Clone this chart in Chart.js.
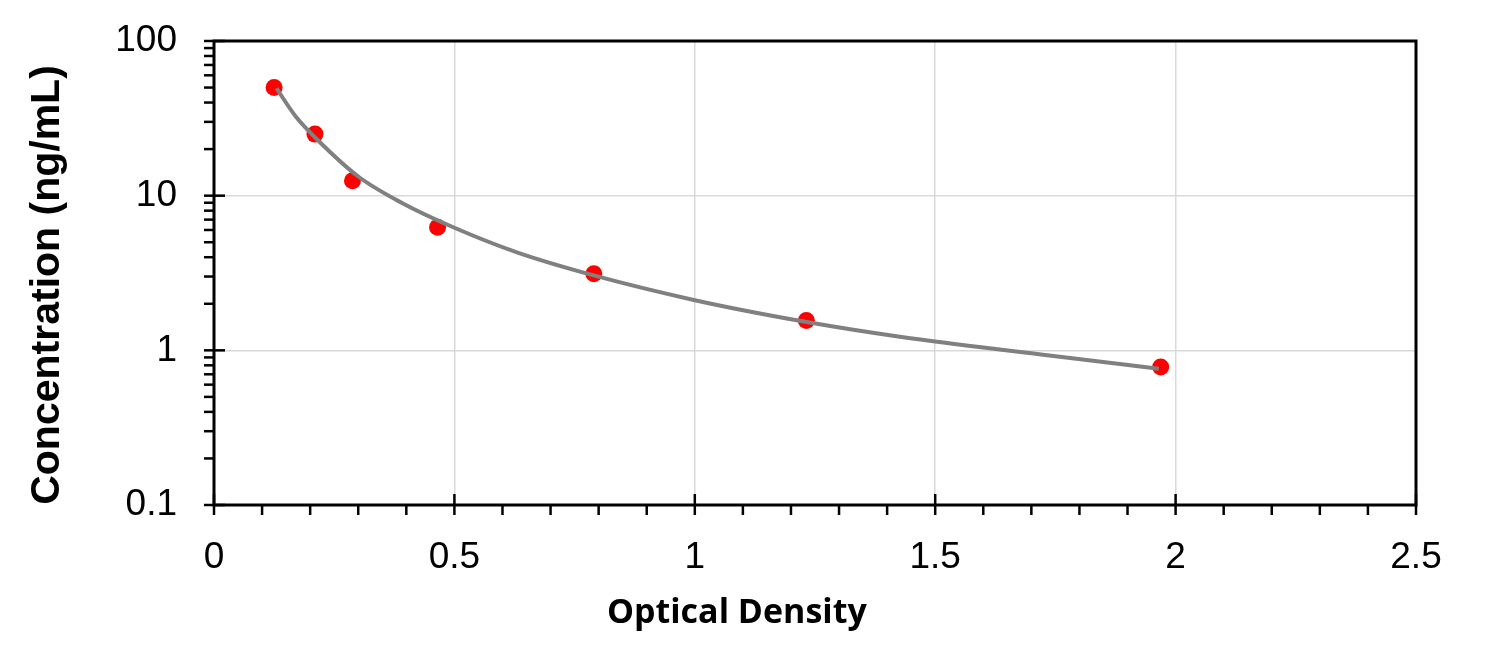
<!DOCTYPE html>
<html>
<head>
<meta charset="utf-8">
<script src="https://cdn.jsdelivr.net/npm/chart.js@4.4.0/dist/chart.umd.min.js"></script>
<style>
    html, body { margin: 0; padding: 0; background: #fff; }
    #wrap { width: 1494px; height: 655px; }
</style>
</head>
<body>
<div id="wrap"><canvas id="curva"></canvas></div>
<script>
// pontos medidos (padrões)
var odPontos = [0.125, 0.21, 0.288, 0.465, 0.79, 1.232, 1.969];
var concPontos = [50, 25, 12.5, 6.25, 3.125, 1.56, 0.78];

// curva ajustada
var odCurva = [0.13, 0.17, 0.215, 0.3, 0.39, 0.5, 0.63, 0.79, 1.0, 1.23, 1.43, 1.72, 1.965];
var concCurva = [49.4, 32.5, 23, 13.3, 9.0, 6.2, 4.3, 3.05, 2.11, 1.53, 1.22, 0.94, 0.76];

var ticksY = [0.1, 1, 10, 100];
var ticksX = [0, 0.5, 1, 1.5, 2, 2.5];
var tituloX = 'Optical Density';
var tituloY = 'Concentration (ng/mL)';

function ehMajorX(v) {
    return Math.abs(v * 2 - Math.round(v * 2)) < 1e-6;
}
function ehMajorY(v) {
    var l = Math.log10(v);
    return Math.abs(l - Math.round(l)) < 1e-6;
}

const molduraPlugin = {
    id: 'moldura',
    afterDraw(chart) {
        const ctx = chart.ctx;
        const a = chart.chartArea;
        const sx = chart.scales.x;
        const sy = chart.scales.y;
        ctx.save();
        ctx.strokeStyle = '#000';
        ctx.lineWidth = 2.5;
        // marcas do eixo y
        sy.ticks.forEach(function (t) {
            var p = sy.getPixelForValue(t.value);
            var major = ehMajorY(t.value);
            ctx.beginPath();
            ctx.moveTo(a.left - 10, p);
            ctx.lineTo(major ? a.left + 11 : a.left, p);
            ctx.stroke();
        });
        // marcas do eixo x
        sx.ticks.forEach(function (t) {
            var p = sx.getPixelForValue(t.value);
            var major = ehMajorX(t.value);
            ctx.beginPath();
            ctx.moveTo(p, a.bottom + 10);
            ctx.lineTo(p, major ? a.bottom - 11 : a.bottom);
            ctx.stroke();
        });
        ctx.lineWidth = 3;
        ctx.strokeRect(a.left, a.top, a.right - a.left, a.bottom - a.top);

        // títulos dos eixos (fora do centro, como no original)
        ctx.fillStyle = '#000';
        ctx.font = 'bold 34px "Open Sans"';
        ctx.textAlign = 'center';
        ctx.textBaseline = 'middle';
        ctx.fillText(tituloX, a.left + (a.right - a.left) * 0.435, a.bottom + 108);

        ctx.translate(59, (a.top + a.bottom) / 2 + 12);
        ctx.rotate(-Math.PI / 2);
        ctx.font = 'bold 41px "Liberation Sans", Arial';
        ctx.textBaseline = 'alphabetic';
        ctx.fillText(tituloY, 0, 0);
        ctx.restore();
    }
};

const ctxCurva = document.getElementById('curva');

new Chart(ctxCurva, {
    type: 'scatter',
    data: {
        datasets: [{
            label: 'Curva',
            type: 'line',
            data: odCurva.map(function (x, i) { return { x: x, y: concCurva[i] }; }),
            borderColor: '#808080',
            borderWidth: 4,
            pointRadius: 0,
            cubicInterpolationMode: 'monotone',
            fill: false,
            order: 0
        },
        {
            label: 'Padrões',
            data: odPontos.map(function (x, i) { return { x: x, y: concPontos[i] }; }),
            backgroundColor: '#ff0000',
            borderWidth: 0,
            pointRadius: 8.5,
            order: 1
        }]
    },
    options: {
        responsive: true,
        maintainAspectRatio: false,
        animation: false,
        layout: { padding: { left: 22, right: 78, top: 41, bottom: 0 } },
        plugins: {
            legend: { display: false },
            tooltip: { enabled: false }
        },
        scales: {
            x: {
                type: 'linear',
                min: 0,
                max: 2.5,
                afterBuildTicks: function (s) {
                    var arr = [];
                    for (var i = 0; i <= 25; i++) arr.push({ value: i / 10 });
                    s.ticks = arr;
                },
                afterFit: function (s) { s.height = 150; },
                grid: {
                    drawTicks: false,
                    color: function (c) {
                        var v = c.tick ? c.tick.value : 0;
                        return (ehMajorX(v) && v > 0 && v < 2.5) ? '#d9d9d9' : 'rgba(0,0,0,0)';
                    },
                    lineWidth: 1.5
                },
                border: { display: false },
                ticks: {
                    padding: 31,
                    color: '#000',
                    font: { family: 'Liberation Sans, Arial', size: 37 },
                    autoSkip: false,
                    maxRotation: 0,
                    callback: function (v) {
                        if (!ehMajorX(v)) return '';
                        var r = Math.round(v * 2) / 2;
                        return ticksX.indexOf(r) >= 0 ? String(r) : '';
                    }
                }
            },
            y: {
                type: 'logarithmic',
                min: 0.1,
                max: 100,
                afterBuildTicks: function (s) {
                    var arr = [];
                    for (var d = -1; d <= 1; d++) {
                        for (var m = 1; m <= 9; m++) arr.push({ value: m * Math.pow(10, d) });
                    }
                    arr.push({ value: 100 });
                    s.ticks = arr;
                },
                afterFit: function (s) {
                    s.width = 192;
                    s.paddingTop = 0;
                    s.paddingBottom = 0;
                },
                grid: {
                    drawTicks: false,
                    color: function (c) {
                        var v = c.tick ? c.tick.value : 1;
                        return (ehMajorY(v) && v > 0.1 && v < 100) ? '#d9d9d9' : 'rgba(0,0,0,0)';
                    },
                    lineWidth: 1.5
                },
                border: { display: false },
                ticks: {
                    padding: 37,
                    color: '#000',
                    font: { family: 'Liberation Sans, Arial', size: 37 },
                    autoSkip: false,
                    callback: function (v) {
                        if (!ehMajorY(v)) return '';
                        var r = Math.pow(10, Math.round(Math.log10(v)));
                        return ticksY.indexOf(r) >= 0 ? String(r) : '';
                    }
                }
            }
        }
    },
    plugins: [molduraPlugin]
});
</script>
</body>
</html>
